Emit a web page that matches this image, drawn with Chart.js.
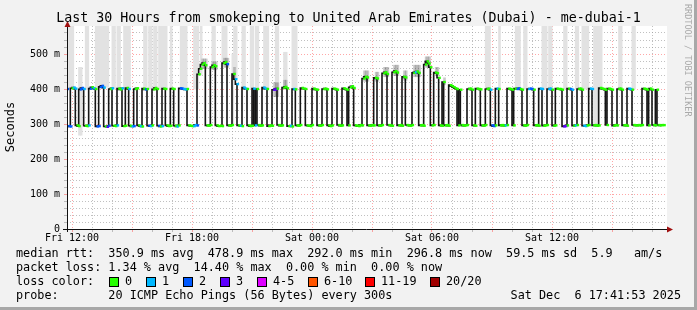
<!DOCTYPE html>
<html>
<head>
<meta charset="utf-8">
<script src="https://cdn.jsdelivr.net/npm/chart.js@4.4.1/dist/chart.umd.min.js"></script>
<style>
html, body { margin: 0; padding: 0; background: #f2f2f2; }
canvas { display: block; }
</style>
</head>
<body>
<canvas id="chart" width="697" height="310"></canvas>
<script>
// one sample every 5 minutes, first sample Fri 11:45, 360 samples = 30 hours
const xTickPos = [3, 75, 147, 219, 291];
const xTickLabels = ['Fri 12:00', 'Fri 18:00', 'Sat 00:00', 'Sat 06:00', 'Sat 12:00'];
const yTickVals = [0, 100, 200, 300, 400, 500];
const yTickLabels = ['0', '100 m', '200 m', '300 m', '400 m', '500 m'];

// median rtt in ms, one row per hour
const rtt = [
    400, 294, 293, 402, 404, 401, 296, 294, 399, 403, 400, 295,
    294, 296, 401, 405, 402, 400, 293, 294, 406, 409, 404, 293,
    292, 295, 400, 402, 295, 294, 296, 401, 399, 402, 294, 295,
    403, 400, 295, 293, 294, 400, 402, 296, 294, 293, 401, 399,
    400, 295, 294, 296, 399, 403, 400, 295, 293, 294, 401, 400,
    296, 294, 295, 401, 400, 295, 293, 296, 402, 401, 400, 399,
    400, 296, 295, 294, 294, 297, 296, 442, 458, 470, 474, 468,
    296, 295, 297, 463, 468, 465, 296, 294, 295, 294, 474, 477,
    471, 296, 295, 297, 443, 428, 414, 296, 295, 294, 404, 401,
    400, 296, 294, 295, 401, 296, 400, 297, 295, 296, 404, 401,
    400, 294, 296, 295, 398, 399, 401, 297, 295, 296, 404, 406,
    402, 294, 295, 293, 400, 399, 296, 295, 297, 403, 401, 400,
    296, 295, 294, 297, 401, 399, 398, 296, 295, 297, 400, 401,
    399, 296, 294, 296, 401, 400, 398, 297, 295, 296, 402, 400,
    398, 296, 405, 408, 403, 296, 295, 294, 297, 296, 430, 435,
    433, 296, 295, 297, 296, 432, 430, 296, 295, 297, 445, 448,
    443, 297, 296, 295, 448, 451, 447, 296, 297, 295, 435, 433,
    297, 296, 295, 297, 446, 448, 450, 446, 296, 297, 295, 470,
    478.9, 473, 462, 296, 297, 447, 445, 432, 296, 295, 420, 296,
    297, 295, 411, 408, 405, 402, 400, 296, 398, 297, 295, 296,
    297, 400, 401, 398, 296, 295, 401, 400, 399, 296, 295, 297,
    400, 401, 398, 296, 294, 296, 401, 400, 296, 297, 295, 296,
    297, 401, 400, 398, 296, 401, 400, 402, 400, 398, 296, 295,
    297, 400, 401, 400, 398, 296, 297, 295, 401, 400, 295, 296,
    297, 400, 401, 398, 295, 296, 401, 400, 400, 398, 293, 294,
    296, 401, 400, 398, 295, 296, 297, 400, 401, 398, 295, 294,
    296, 297, 401, 400, 296, 297, 295, 296, 403, 401, 400, 398,
    297, 401, 400, 398, 295, 297, 296, 400, 401, 398, 296, 297,
    295, 401, 400, 398, 297, 296, 296, 297, 296, 297, 401, 400,
    398, 296, 401, 398, 297, 296, 398, 297, 296, 297, 296.8, null
];

// samples with packet loss (index, number of lost pings colour class)
const lossIdx = [0, 1, 2, 4, 5, 8, 9, 10, 13, 14, 16, 18, 19, 20, 21, 22, 24, 25, 27, 30, 33, 37, 39, 40,
    44, 47, 49, 50, 55, 57, 66, 68, 69, 70, 71, 76, 77, 78, 96, 101, 102, 104, 106, 107, 112, 113,
    118, 119, 124, 125, 134, 136, 209, 254, 255, 256, 258, 263, 270, 271, 277, 278, 279, 284, 285,
    289, 290, 298, 299, 302, 303, 305, 310, 311, 314, 315, 337, 338];
const lossLvl = [2, 2, 2, 1, 1, 2, 2, 1, 1, 2, 1, 2, 2, 2, 2, 1, 3, 2, 1, 1, 1, 1, 1, 2,
    1, 2, 2, 1, 2, 1, 1, 2, 2, 1, 1, 1, 1, 2, 2, 1, 1, 1, 1, 1, 1, 1,
    1, 1, 3, 3, 1, 1, 1, 1, 2, 2, 1, 1, 2, 2, 1, 2, 2, 1, 1,
    1, 1, 3, 3, 2, 1, 1, 1, 1, 1, 1, 1, 1];

const lossNames = ['0', '1', '2', '3', '4-5', '6-10', '11-19', '20/20'];
const lossColors = ['#26ff00', '#00b8ff', '#0059ff', '#5e00ff', '#dd00ff', '#ff5500', '#ff0000', '#a10000'];
const lossBoxX = [109, 146, 183, 220, 257, 308, 365, 430];

// light smoke columns (slowest pings)
const smokeK  = [1, 2, 3, 7, 8, 11, 12, 17, 18, 19, 20, 21, 22, 23, 24, 27, 28, 30, 31, 34, 35, 36, 37,
    46, 47, 49, 50, 52, 53, 55, 56, 57, 58, 59, 62, 68, 69, 70, 71, 76, 77, 78, 80, 87, 88,
    93, 94, 95, 99, 100, 101, 105, 106, 110, 111, 113, 114, 118, 119, 120, 125, 126, 130, 131,
    135, 136, 137, 251, 252, 253, 259, 269, 270, 271, 274, 275, 285, 286, 287, 289, 290,
    298, 299, 305, 306, 309, 310, 311, 312, 316, 317, 318, 319, 320, 331, 332, 339, 340];
const smokeHi = [580, 580, 580, 462, 462, 580, 580, 580, 580, 580, 580, 580, 580, 580, 580, 580, 580, 580, 580, 580, 580, 580, 580,
    580, 580, 580, 580, 580, 580, 580, 580, 580, 580, 580, 580, 580, 580, 580, 580, 580, 580, 580, 580, 580, 580,
    580, 580, 580, 500, 580, 580, 580, 580, 580, 580, 580, 580, 580, 580, 580, 580, 580, 505, 505,
    580, 580, 580, 580, 580, 580, 580, 580, 580, 580, 580, 580, 580, 580, 580, 580, 580,
    580, 580, 580, 580, 580, 580, 580, 580, 580, 580, 580, 580, 580, 580, 580, 580, 580];
const smokeLo = [400, 400, 400, 268, 268, 398, 398, 400, 400, 400, 405, 405, 405, 405, 405, 400, 400, 400, 400, 400, 400, 400, 400,
    400, 400, 400, 400, 400, 400, 400, 400, 400, 400, 400, 400, 400, 400, 400, 400, 400, 400, 400, 440, 465, 465,
    470, 470, 470, 300, 430, 430, 400, 400, 400, 400, 400, 400, 400, 400, 400, 400, 400, 400, 400,
    400, 400, 400, 400, 400, 400, 400, 400, 400, 400, 400, 400, 400, 400, 400, 400, 400,
    400, 400, 400, 400, 400, 400, 400, 400, 300, 300, 300, 400, 400, 400, 400, 400, 400];

// darker smoke around the median
const darkK  = [81, 82, 83, 87, 88, 89, 94, 95, 96, 100, 124, 125, 126, 130, 131, 178, 179, 180, 185, 186,
    190, 191, 192, 196, 197, 198, 202, 203, 208, 209, 210, 211, 215, 216, 217, 221, 222, 226];
const darkLo = [458, 458, 458, 455, 455, 455, 462, 462, 462, 428, 378, 378, 378, 400, 400, 422, 422, 422, 422, 422,
    435, 435, 435, 438, 438, 438, 425, 425, 435, 435, 435, 435, 462, 462, 462, 438, 438, 412];
const darkHi = [486, 486, 486, 478, 478, 478, 488, 488, 488, 462, 418, 418, 418, 425, 425, 452, 452, 452, 448, 448,
    462, 462, 462, 468, 468, 468, 452, 452, 468, 468, 468, 468, 492, 492, 492, 462, 462, 432];

const title = 'Last 30 Hours from smokeping to United Arab Emirates (Dubai) - me-dubai-1';
const legendRtt = 'median rtt:  350.9 ms avg  478.9 ms max  292.0 ms min  296.8 ms now  59.5 ms sd  5.9   am/s';
const legendLoss = 'packet loss: 1.34 % avg  14.40 % max  0.00 % min  0.00 % now';
const legendProbe = 'probe:       20 ICMP Echo Pings (56 Bytes) every 300s';
const stamp = 'Sat Dec  6 17:41:53 2025';

const MONO = '"DejaVu Sans Mono", monospace';
const majorGrid = 'rgba(255,60,60,0.45)';
const minorGrid = 'rgba(150,150,150,0.6)';

let markColors = rtt.map(() => lossColors[0]);
lossIdx.forEach((k, i) => { markColors[k] = lossColors[lossLvl[i]]; });

let frame = {
    id: 'frame',
    beforeDraw(chart) {
        const c = chart.ctx, a = chart.chartArea;
        c.save();
        c.fillStyle = '#f2f2f2';
        c.fillRect(0, 0, 697, 310);
        c.fillStyle = '#a8a8a8';
        c.fillRect(694, 0, 3, 310);
        c.fillRect(0, 307, 697, 3);
        c.fillStyle = '#ffffff';
        c.fillRect(a.left, a.top, a.right - a.left, a.bottom - a.top);
        c.restore();
    },
    afterDatasetsDraw(chart) {
        const c = chart.ctx, a = chart.chartArea;
        c.save();
        c.strokeStyle = '#101010';
        c.lineWidth = 1;
        c.beginPath();
        c.moveTo(a.left - 4, a.bottom + 0.5);
        c.lineTo(a.right + 3, a.bottom + 0.5);
        c.moveTo(a.left + 0.5, a.bottom + 3);
        c.lineTo(a.left + 0.5, a.top - 3);
        c.stroke();
        c.fillStyle = '#a01010';
        c.beginPath();
        c.moveTo(a.left - 2.5, a.top + 1);
        c.lineTo(a.left + 3.5, a.top + 1);
        c.lineTo(a.left + 0.5, a.top - 5);
        c.closePath();
        c.fill();
        c.beginPath();
        c.moveTo(a.right, a.bottom - 2.5);
        c.lineTo(a.right, a.bottom + 3.5);
        c.lineTo(a.right + 6, a.bottom + 0.5);
        c.closePath();
        c.fill();
        c.restore();
    },
    afterDraw(chart) {
        const c = chart.ctx;
        c.save();
        c.fillStyle = '#000';
        c.textBaseline = 'middle';
        c.textAlign = 'center';
        c.font = '13.3px ' + MONO;
        c.fillText(title, 348.5, 19);

        c.save();
        c.translate(11, 127);
        c.rotate(-Math.PI / 2);
        c.font = '12px ' + MONO;
        c.fillText('Seconds', 0, 0);
        c.restore();

        c.save();
        c.translate(687, 4);
        c.rotate(Math.PI / 2);
        c.textAlign = 'left';
        c.fillStyle = '#aaaaaa';
        c.font = '8.5px ' + MONO;
        c.fillText('RRDTOOL / TOBI OETIKER', 0, 0);
        c.restore();

        c.textAlign = 'left';
        c.font = '11.8px ' + MONO;
        c.fillText(legendRtt, 16, 254);
        c.fillText(legendLoss, 16, 268);
        c.fillText('loss color:', 16, 282);
        for (let i = 0; i < lossNames.length; i++) {
            c.fillStyle = lossColors[i];
            c.fillRect(lossBoxX[i], 277, 9, 9);
            c.strokeStyle = '#000';
            c.lineWidth = 1;
            c.strokeRect(lossBoxX[i] + 0.5, 277.5, 9, 9);
            c.fillStyle = '#000';
            c.fillText(lossNames[i], lossBoxX[i] + 16, 282);
        }
        c.fillText(legendProbe, 16, 296);
        c.textAlign = 'right';
        c.fillText(stamp, 681, 296);
        c.restore();
    }
};

let graph = new Chart(document.getElementById('chart'), {
    type: 'line',
    data: {
        datasets: [
            {
                type: 'bar',
                data: smokeK.map((k, i) => ({ x: k + 0.5, y: [smokeLo[i], smokeHi[i]] })),
                backgroundColor: '#e2e2e2',
                barThickness: 2,
                grouped: false,
                order: 4
            },
            {
                type: 'bar',
                data: darkK.map((k, i) => ({ x: k + 0.5, y: [darkLo[i], darkHi[i]] })),
                backgroundColor: 'rgba(80,80,80,0.3)',
                barThickness: 2,
                grouped: false,
                order: 3
            },
            {
                type: 'line',
                data: rtt.map((v, k) => ({ x: k, y: v })),
                stepped: 'after',
                borderColor: '#151515',
                borderWidth: 1.6,
                pointRadius: 0,
                order: 2
            },
            {
                type: 'line',
                data: rtt.map((v, k) => ({ x: k + 0.5, y: v })),
                showLine: false,
                pointStyle: 'line',
                pointRadius: 1.3,
                pointBorderWidth: 2.4,
                pointBorderColor: markColors,
                pointBackgroundColor: markColors,
                order: 1
            }
        ]
    },
    options: {
        responsive: false,
        animation: false,
        devicePixelRatio: 1,
        layout: { padding: { top: 26, right: 30, bottom: 61, left: 0 } },
        plugins: { legend: { display: false }, tooltip: { enabled: false } },
        scales: {
            x: {
                type: 'linear',
                min: 0,
                max: 360,
                offset: false,
                afterBuildTicks: (s) => {
                    let t = [];
                    for (let k = 3; k < 360; k += 12) t.push({ value: k });
                    s.ticks = t;
                },
                afterFit: (s) => { s.height = 20; },
                ticks: {
                    autoSkip: false,
                    maxRotation: 0,
                    padding: 0,
                    color: '#000',
                    font: { family: MONO, size: 10 },
                    callback: (v) => {
                        let i = xTickPos.indexOf(v);
                        return i < 0 ? '' : xTickLabels[i];
                    }
                },
                grid: {
                    offset: false,
                    tickLength: 3,
                    color: (c) => ((c.tick.value - 3) % 36 === 0 ? majorGrid : minorGrid)
                },
                border: { display: false, dash: [1, 2] }
            },
            y: {
                min: 0,
                max: 580,
                afterFit: (s) => { s.width = 67; },
                ticks: {
                    stepSize: 20,
                    autoSkip: false,
                    padding: 4,
                    color: '#000',
                    font: { family: MONO, size: 10 },
                    callback: (v) => {
                        let i = yTickVals.indexOf(v);
                        return i < 0 ? '' : yTickLabels[i];
                    }
                },
                grid: {
                    tickLength: 3,
                    color: (c) => {
                        if (c.tick.value >= 580) return 'rgba(0,0,0,0)';
                        return c.tick.value % 100 === 0 ? majorGrid : minorGrid;
                    }
                },
                border: { display: false, dash: [1, 2] }
            }
        }
    },
    plugins: [frame]
});
</script>
</body>
</html>
